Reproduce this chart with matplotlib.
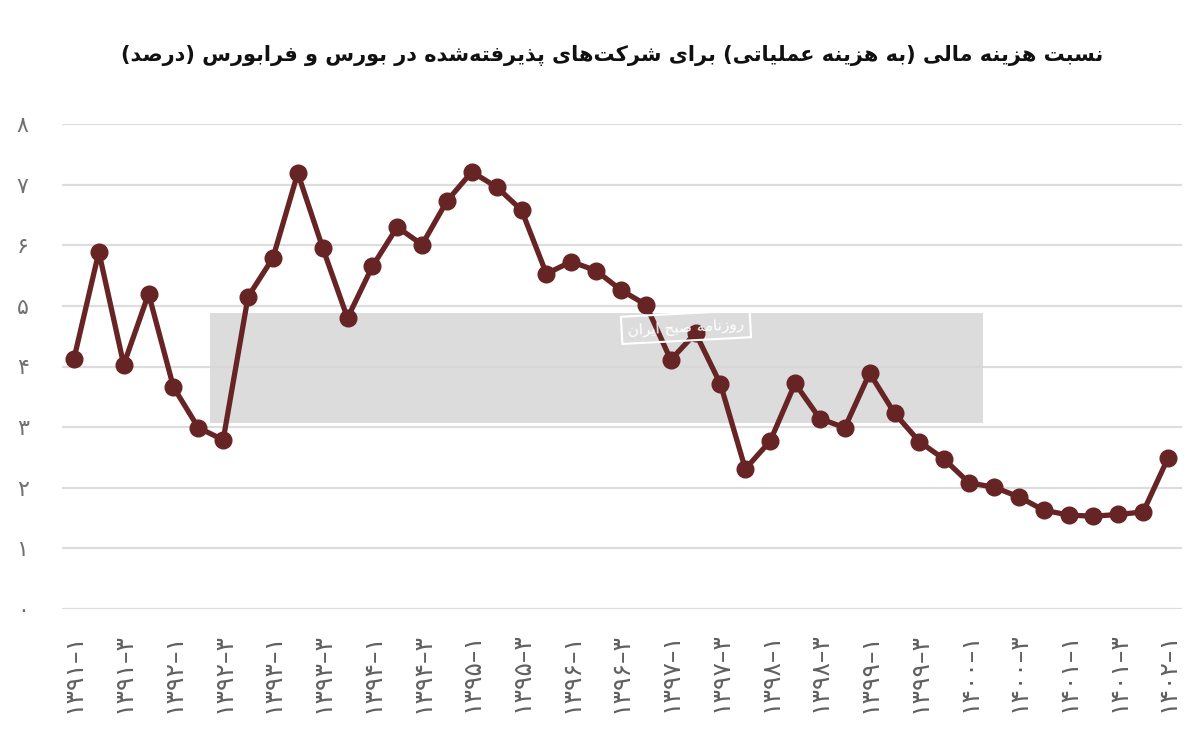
import matplotlib
matplotlib.use("Agg")
import matplotlib.pyplot as plt
from matplotlib.patches import Rectangle

# ---------------- data ----------------
quarters = [f"{y}-{q}" for y in range(1391, 1402) for q in (1, 2, 3, 4)] + ["1402-1"]
values = [4.13, 5.89, 4.03, 5.20, 3.66, 2.99, 2.79, 5.15, 5.79, 7.19,
          5.96, 4.80, 5.65, 6.30, 6.01, 6.73, 7.21, 6.96, 6.58, 5.53,
          5.73, 5.58, 5.26, 5.02, 4.11, 4.55, 3.71, 2.31, 2.77, 3.72,
          3.14, 2.99, 3.89, 3.23, 2.76, 2.47, 2.08, 2.01, 1.85, 1.63,
          1.55, 1.53, 1.56, 1.60, 2.49]
y_ticks = list(range(0, 9))
title_text = "نسبت هزینه مالی (به هزینه عملیاتی) برای شرکت‌های پذیرفته‌شده در بورس و فرابورس (درصد)"
watermark_text = "روزنامه صبح ایران"

# ---------------- helpers: Persian digits & simple shaping ----------------
FA_DIGITS = str.maketrans("0123456789-", "۰۱۲۳۴۵۶۷۸۹–")

def fa(s):
    return str(s).translate(FA_DIGITS)

FORMS = {
    'ا': (0xFE8D, 0xFE8E, None, None), 'آ': (0xFE81, 0xFE82, None, None),
    'ب': (0xFE8F, 0xFE90, 0xFE91, 0xFE92), 'پ': (0xFB56, 0xFB57, 0xFB58, 0xFB59),
    'ت': (0xFE95, 0xFE96, 0xFE97, 0xFE98), 'ث': (0xFE99, 0xFE9A, 0xFE9B, 0xFE9C),
    'ج': (0xFE9D, 0xFE9E, 0xFE9F, 0xFEA0), 'چ': (0xFB7A, 0xFB7B, 0xFB7C, 0xFB7D),
    'ح': (0xFEA1, 0xFEA2, 0xFEA3, 0xFEA4), 'خ': (0xFEA5, 0xFEA6, 0xFEA7, 0xFEA8),
    'د': (0xFEA9, 0xFEAA, None, None), 'ذ': (0xFEAB, 0xFEAC, None, None),
    'ر': (0xFEAD, 0xFEAE, None, None), 'ز': (0xFEAF, 0xFEB0, None, None),
    'ژ': (0xFB8A, 0xFB8B, None, None),
    'س': (0xFEB1, 0xFEB2, 0xFEB3, 0xFEB4), 'ش': (0xFEB5, 0xFEB6, 0xFEB7, 0xFEB8),
    'ص': (0xFEB9, 0xFEBA, 0xFEBB, 0xFEBC), 'ض': (0xFEBD, 0xFEBE, 0xFEBF, 0xFEC0),
    'ط': (0xFEC1, 0xFEC2, 0xFEC3, 0xFEC4), 'ظ': (0xFEC5, 0xFEC6, 0xFEC7, 0xFEC8),
    'ع': (0xFEC9, 0xFECA, 0xFECB, 0xFECC), 'غ': (0xFECD, 0xFECE, 0xFECF, 0xFED0),
    'ف': (0xFED1, 0xFED2, 0xFED3, 0xFED4), 'ق': (0xFED5, 0xFED6, 0xFED7, 0xFED8),
    'ک': (0xFB8E, 0xFB8F, 0xFB90, 0xFB91), 'گ': (0xFB92, 0xFB93, 0xFB94, 0xFB95),
    'ل': (0xFEDD, 0xFEDE, 0xFEDF, 0xFEE0), 'م': (0xFEE1, 0xFEE2, 0xFEE3, 0xFEE4),
    'ن': (0xFEE5, 0xFEE6, 0xFEE7, 0xFEE8), 'ه': (0xFEE9, 0xFEEA, 0xFEEB, 0xFEEC),
    'و': (0xFEED, 0xFEEE, None, None), 'ی': (0xFBFC, 0xFBFD, 0xFBFE, 0xFBFF),
}


def shape_rtl(text):
    chars = list(text)
    out = []
    for i, c in enumerate(chars):
        if c not in FORMS:
            if c != '\u200c':
                out.append(c)
            continue
        prev = chars[i - 1] if i > 0 else None
        nxt = chars[i + 1] if i + 1 < len(chars) else None
        jp = prev in FORMS and FORMS[prev][2] is not None
        jn = FORMS[c][2] is not None and nxt in FORMS
        iso, fin, ini, med = FORMS[c]
        if jp and jn:
            code = med
        elif jp:
            code = fin
        elif jn:
            code = ini
        else:
            code = iso
        out.append(chr(code))
    vis = ''.join(reversed(out))
    return vis.translate(str.maketrans("()", ")("))


# ---------------- figure ----------------
W, H = 1200, 747
fig = plt.figure(figsize=(W / 100, H / 100), dpi=100)
plt.rcParams['font.family'] = ['DejaVu Sans']

x_first, x_last = 74, 1168
ax_left, ax_right = 62, 1182
step = (x_last - x_first) / (len(values) - 1)
y0_px, y8_px = 609, 124
ax = fig.add_axes([ax_left / W, 1 - y0_px / H, (ax_right - ax_left) / W, (y0_px - y8_px) / H])

xs = list(range(len(values)))
ax.set_xlim(-(x_first - ax_left) / step, len(values) - 1 + (ax_right - x_last) / step)
ax.set_ylim(0, 8)

for s in ax.spines.values():
    s.set_visible(False)

ax.set_yticks(y_ticks)
ax.set_yticklabels([fa(v) for v in y_ticks])
ax.yaxis.grid(True, color='#dddddd', linewidth=1.6)
ax.set_axisbelow(True)
ax.tick_params(axis='y', length=0, pad=24, labelsize=16, labelcolor='#707070')

tick_pos = xs[::2]
ax.set_xticks(tick_pos)
ax.set_xticklabels([fa(quarters[i]) for i in tick_pos], rotation=90, va='top', ha='center')
ax.tick_params(axis='x', length=0, pad=17, labelsize=18, labelcolor='#606060')

# watermark band
ax.add_patch(Rectangle((210 / W, 1 - 423 / H), 773 / W, 110 / H, transform=fig.transFigure,
                       facecolor='#d6d6d6', edgecolor='none', alpha=0.85, zorder=1))
fig.text(686 / W, 1 - 327 / H, shape_rtl(watermark_text), ha='center', va='center',
         fontsize=11, color='white', rotation=3, zorder=3,
         bbox=dict(boxstyle='square,pad=0.4', facecolor='none', edgecolor='white', linewidth=1.5))

ax.plot(xs, values, color='#672424', linewidth=3.8, marker='o', markersize=12,
        markerfacecolor='#672424', markeredgecolor='#672424', zorder=2, clip_on=False)

fig.text(612 / W, 1 - 55 / H, shape_rtl(title_text), ha='center', va='center',
         fontsize=15, fontweight='bold', color='#111111')

fig.savefig('out.png', dpi=100, facecolor='white')
